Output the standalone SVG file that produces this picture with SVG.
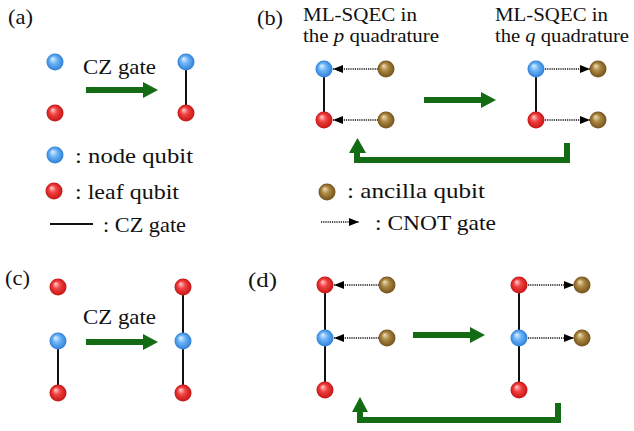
<svg xmlns="http://www.w3.org/2000/svg" width="634" height="431" viewBox="0 0 634 431">
<defs>
<radialGradient id="gBlue" cx="0.5" cy="0.5" r="0.5" fx="0.35" fy="0.3">
<stop offset="0" stop-color="#e0f2ff"/><stop offset="0.45" stop-color="#6cb4f6"/><stop offset="1" stop-color="#2f7fd8"/>
</radialGradient>
<radialGradient id="gRed" cx="0.5" cy="0.5" r="0.5" fx="0.35" fy="0.3">
<stop offset="0" stop-color="#ffd0d0"/><stop offset="0.45" stop-color="#f24040"/><stop offset="1" stop-color="#c41515"/>
</radialGradient>
<radialGradient id="gBrown" cx="0.5" cy="0.5" r="0.5" fx="0.35" fy="0.3">
<stop offset="0" stop-color="#f0e0b8"/><stop offset="0.45" stop-color="#ad8845"/><stop offset="1" stop-color="#735219"/>
</radialGradient>
<marker id="cn" viewBox="0 0 10 8" refX="10" refY="4" markerWidth="10" markerHeight="8" markerUnits="userSpaceOnUse" orient="auto">
<path d="M0,0 L10,4 L0,8 Z" fill="#000"/>
</marker>
</defs>
<style>
text{font-family:'Liberation Serif','Times New Roman',Times,serif;font-size:21px;fill:#111}
.sm{font-size:19px}
.blue{fill:url(#gBlue)}
.red{fill:url(#gRed)}
.brown{fill:url(#gBrown)}
.cz{stroke:#111;stroke-width:2;fill:none}
.cnot{stroke:#111;stroke-width:1.6;stroke-dasharray:1.2 1;fill:none;marker-end:url(#cn)}
.garrow{fill:#136b13}
.gline{stroke:#136b13;stroke-width:6;fill:none}
</style>

<!-- Panel labels and texts -->
<g id="labels">
<text x="8" y="24" textLength="25" lengthAdjust="spacingAndGlyphs">(a)</text>
<text x="257" y="25" textLength="26" lengthAdjust="spacingAndGlyphs">(b)</text>
<text x="5" y="285" textLength="25" lengthAdjust="spacingAndGlyphs">(c)</text>
<text x="248" y="287" textLength="29" lengthAdjust="spacingAndGlyphs">(d)</text>
<text x="83" y="74" textLength="73" lengthAdjust="spacingAndGlyphs">CZ gate</text>
<text x="83" y="324" textLength="73" lengthAdjust="spacingAndGlyphs">CZ gate</text>
<text class="sm" x="303" y="21" textLength="114" lengthAdjust="spacingAndGlyphs">ML-SQEC in</text>
<text class="sm" x="303" y="42" textLength="136" lengthAdjust="spacingAndGlyphs">the <tspan font-style="italic">p</tspan> quadrature</text>
<text class="sm" x="495" y="21" textLength="113" lengthAdjust="spacingAndGlyphs">ML-SQEC in</text>
<text class="sm" x="495" y="42" textLength="134" lengthAdjust="spacingAndGlyphs">the <tspan font-style="italic">q</tspan> quadrature</text>
</g>

<!-- Legend -->
<g id="legend">
<circle class="blue" cx="55" cy="155" r="8.5"/>
<text x="75" y="163" textLength="118" lengthAdjust="spacingAndGlyphs">: node qubit</text>
<circle class="red" cx="54" cy="191" r="8.5"/>
<text x="75" y="199" textLength="104" lengthAdjust="spacingAndGlyphs">: leaf qubit</text>
<line class="cz" x1="50" y1="224" x2="93" y2="224"/>
<text x="103" y="232" textLength="83" lengthAdjust="spacingAndGlyphs">: CZ gate</text>
<circle class="brown" cx="327" cy="192" r="8.5"/>
<text x="347" y="198" textLength="138" lengthAdjust="spacingAndGlyphs">: ancilla qubit</text>
<line class="cnot" x1="321" y1="222" x2="359" y2="222"/>
<text x="375" y="230" textLength="121" lengthAdjust="spacingAndGlyphs">: CNOT gate</text>
</g>

<!-- Connectors -->
<g id="connectors">
<!-- (a) -->
<line class="cz" x1="186" y1="62" x2="186" y2="113"/>
<polygon class="garrow" points="86,87 143,87 143,82 158,90 143,98 143,93 86,93"/>
<!-- (b) -->
<line class="cz" x1="324" y1="69" x2="324" y2="120"/>
<line class="cz" x1="536" y1="69" x2="536" y2="120"/>
<line class="cnot" x1="378" y1="69" x2="333" y2="69"/>
<line class="cnot" x1="378" y1="120" x2="333" y2="120"/>
<line class="cnot" x1="545" y1="69" x2="590" y2="69"/>
<line class="cnot" x1="545" y1="120" x2="590" y2="120"/>
<polygon class="garrow" points="424,97 481,97 481,92 496,100 481,108 481,103 424,103"/>
<path class="gline" d="M567,143 V160 H357 V151"/>
<polygon class="garrow" points="349,153 366,153 357.5,138"/>
<!-- (c) -->
<line class="cz" x1="58" y1="341" x2="58" y2="393"/>
<line class="cz" x1="183" y1="287" x2="183" y2="393"/>
<polygon class="garrow" points="86,339 143,339 143,334 158,342 143,350 143,345 86,345"/>
<!-- (d) -->
<line class="cz" x1="325" y1="285" x2="325" y2="390"/>
<line class="cz" x1="519" y1="285" x2="519" y2="390"/>
<line class="cnot" x1="379" y1="285" x2="334" y2="285"/>
<line class="cnot" x1="379" y1="338" x2="334" y2="338"/>
<line class="cnot" x1="528" y1="285" x2="574" y2="285"/>
<line class="cnot" x1="528" y1="338" x2="574" y2="338"/>
<polygon class="garrow" points="413,332 470,332 470,327 485,335 470,343 470,338 413,338"/>
<path class="gline" d="M558,403 V420 H360 V410"/>
<polygon class="garrow" points="352,412 368,412 360,397"/>
</g>

<!-- Nodes -->
<g id="a-left-node"><circle class="blue" cx="55" cy="62" r="8.5"/></g>
<g id="a-left-leaf"><circle class="red" cx="55" cy="113" r="8.5"/></g>
<g id="a-right-node"><circle class="blue" cx="186" cy="62" r="8.5"/></g>
<g id="a-right-leaf"><circle class="red" cx="186" cy="113" r="8.5"/></g>

<g id="b-left-node"><circle class="blue" cx="324" cy="69" r="8.5"/></g>
<g id="b-left-leaf"><circle class="red" cx="324" cy="120" r="8.5"/></g>
<g id="b-left-anc1"><circle class="brown" cx="386" cy="69" r="8.5"/></g>
<g id="b-left-anc2"><circle class="brown" cx="386" cy="120" r="8.5"/></g>
<g id="b-right-node"><circle class="blue" cx="536" cy="69" r="8.5"/></g>
<g id="b-right-leaf"><circle class="red" cx="536" cy="120" r="8.5"/></g>
<g id="b-right-anc1"><circle class="brown" cx="598" cy="69" r="8.5"/></g>
<g id="b-right-anc2"><circle class="brown" cx="598" cy="120" r="8.5"/></g>

<g id="c-left-leaf1"><circle class="red" cx="58" cy="287" r="8.5"/></g>
<g id="c-left-node"><circle class="blue" cx="58" cy="341" r="8.5"/></g>
<g id="c-left-leaf2"><circle class="red" cx="58" cy="393" r="8.5"/></g>
<g id="c-right-leaf1"><circle class="red" cx="183" cy="287" r="8.5"/></g>
<g id="c-right-node"><circle class="blue" cx="183" cy="341" r="8.5"/></g>
<g id="c-right-leaf2"><circle class="red" cx="183" cy="393" r="8.5"/></g>

<g id="d-left-leaf1"><circle class="red" cx="325" cy="285" r="8.5"/></g>
<g id="d-left-node"><circle class="blue" cx="325" cy="338" r="8.5"/></g>
<g id="d-left-leaf2"><circle class="red" cx="325" cy="390" r="8.5"/></g>
<g id="d-left-anc1"><circle class="brown" cx="387" cy="285" r="8.5"/></g>
<g id="d-left-anc2"><circle class="brown" cx="387" cy="338" r="8.5"/></g>
<g id="d-right-leaf1"><circle class="red" cx="519" cy="285" r="8.5"/></g>
<g id="d-right-node"><circle class="blue" cx="519" cy="338" r="8.5"/></g>
<g id="d-right-leaf2"><circle class="red" cx="519" cy="390" r="8.5"/></g>
<g id="d-right-anc1"><circle class="brown" cx="582" cy="285" r="8.5"/></g>
<g id="d-right-anc2"><circle class="brown" cx="582" cy="338" r="8.5"/></g>
</svg>
